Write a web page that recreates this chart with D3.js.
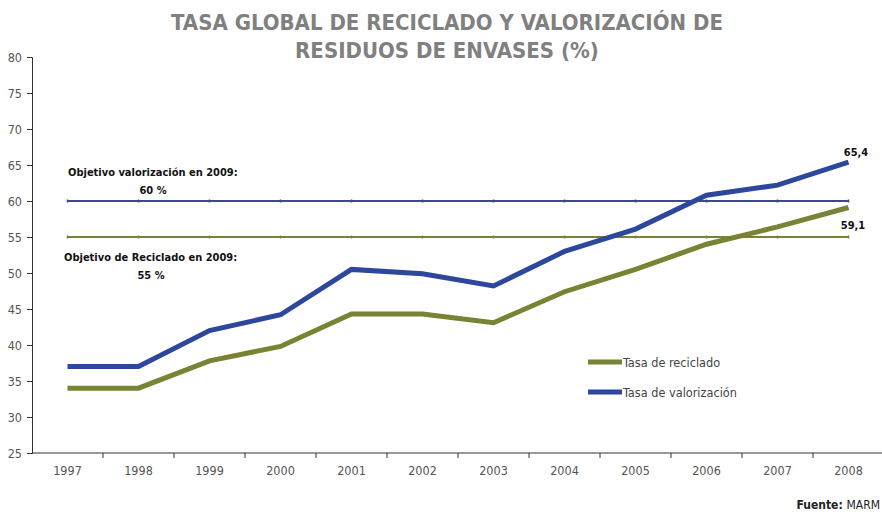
<!DOCTYPE html>
<html><head><meta charset="utf-8">
<script src="https://cdn.jsdelivr.net/npm/d3@7"></script>
<style>body{margin:0;background:#fff}svg{display:block}</style>
</head><body>
<svg id="c" width="882" height="514"></svg>
<script>
const years = ["1997","1998","1999","2000","2001","2002","2003","2004","2005","2006","2007","2008"];
const reciclado = [34.0,34.0,37.8,39.8,44.3,44.3,43.1,47.4,50.5,54.0,56.4,59.1];
const valorizacion = [37.0,37.0,42.0,44.2,50.5,49.9,48.2,53.0,56.1,60.8,62.2,65.4];
const objetivoValorizacion = 60;
const objetivoReciclado = 55;
const yTicks = [25,30,35,40,45,50,55,60,65,70,75,80];

const font = "'DejaVu Sans Condensed','DejaVu Sans',sans-serif";
const svg = d3.select("#c");
const x = d3.scaleBand().domain(years).range([32, 884]);
const y = d3.scaleLinear().domain([25, 80]).range([453, 57]);
const cx = d => x(d) + x.bandwidth()/2;
const blue = "#2d479c", green = "#7a8233";

// title
svg.append("text").attr("x", 447).attr("y", 30).attr("text-anchor","middle")
  .attr("font-family", font).attr("font-size", 22).attr("font-weight","bold").attr("fill","#808080")
  .text("TASA GLOBAL DE RECICLADO Y VALORIZACIÓN DE");
svg.append("text").attr("x", 447).attr("y", 58).attr("text-anchor","middle")
  .attr("font-family", font).attr("font-size", 22).attr("font-weight","bold").attr("fill","#808080")
  .text("RESIDUOS DE ENVASES (%)");

// y axis
const ya = svg.append("g").attr("transform","translate(32,0)")
  .call(d3.axisLeft(y).tickValues(yTicks).tickSize(5).tickPadding(5).tickFormat(d3.format("d")));
ya.selectAll("path,line").attr("stroke","#333");
ya.selectAll("text").attr("font-family", font).attr("font-size", 12.5).attr("fill","#555");

// x axis
const xa = svg.append("g").attr("transform","translate(0,453)")
  .call(d3.axisBottom(x).tickSize(0).tickPadding(13));
xa.select("path").attr("stroke","#333").attr("d","M32,0H884");
xa.selectAll("text").attr("font-family", font).attr("font-size", 12.5).attr("fill","#555");
xa.selectAll(".bnd").data(years).enter().append("line").attr("class","bnd")
  .attr("x1", d => x(d) + x.bandwidth()).attr("x2", d => x(d) + x.bandwidth())
  .attr("y1", 0).attr("y2", 5).attr("stroke","#333");

// target lines
function target(val, col) {
  svg.append("line").attr("x1", cx(years[0])).attr("x2", cx(years[years.length-1]))
    .attr("y1", y(val)).attr("y2", y(val)).attr("stroke", col).attr("stroke-width", 2);
  svg.selectAll(null).data(years).enter().append("line")
    .attr("x1", d => cx(d)).attr("x2", d => cx(d))
    .attr("y1", y(val)-1.5).attr("y2", y(val)+1.5).attr("stroke", col).attr("stroke-width", 1.5);
}
target(objetivoValorizacion, "#3c4a88");
target(objetivoReciclado, "#7a8233");

// series lines
const line = vals => d3.line().x((d,i) => cx(years[i])).y(d => y(d))(vals);
svg.append("path").attr("d", line(reciclado)).attr("fill","none").attr("stroke", green)
  .attr("stroke-width", 5).attr("stroke-linejoin","miter");
svg.append("path").attr("d", line(valorizacion)).attr("fill","none").attr("stroke", blue)
  .attr("stroke-width", 5).attr("stroke-linejoin","miter");

// annotations
const ann = (tx, ty, t, anchor) => svg.append("text").attr("x", tx).attr("y", ty)
  .attr("text-anchor", anchor || "start").attr("font-family", font).attr("font-size", 11)
  .attr("font-weight","bold").attr("fill","#111").text(t);
ann(68, 176, "Objetivo valorización en 2009:");
ann(153, 194, objetivoValorizacion + " %", "middle");
ann(64, 261, "Objetivo de Reciclado en 2009:");
ann(151, 279, objetivoReciclado + " %", "middle");

// end labels
ann(856, 156, d3.format(".1f")(valorizacion[11]).replace(".", ","), "middle");
ann(853, 229, d3.format(".1f")(reciclado[11]).replace(".", ","), "middle");

// legend
const leg = [["Tasa de reciclado", green, 362], ["Tasa de valorización", blue, 392]];
leg.forEach(([t, c, ly]) => {
  svg.append("line").attr("x1", 588).attr("x2", 622).attr("y1", ly).attr("y2", ly)
    .attr("stroke", c).attr("stroke-width", 5);
  svg.append("text").attr("x", 623).attr("y", ly + 4.5).attr("font-family", font)
    .attr("font-size", 12.6).attr("fill","#444").text(t);
});

// source
const src = svg.append("text").attr("x", 880).attr("y", 509).attr("text-anchor","end")
  .attr("font-family", font).attr("font-size", 12).attr("fill","#222");
src.append("tspan").attr("font-weight","bold").text("Fuente: ");
src.append("tspan").text("MARM");
</script>
</body></html>
